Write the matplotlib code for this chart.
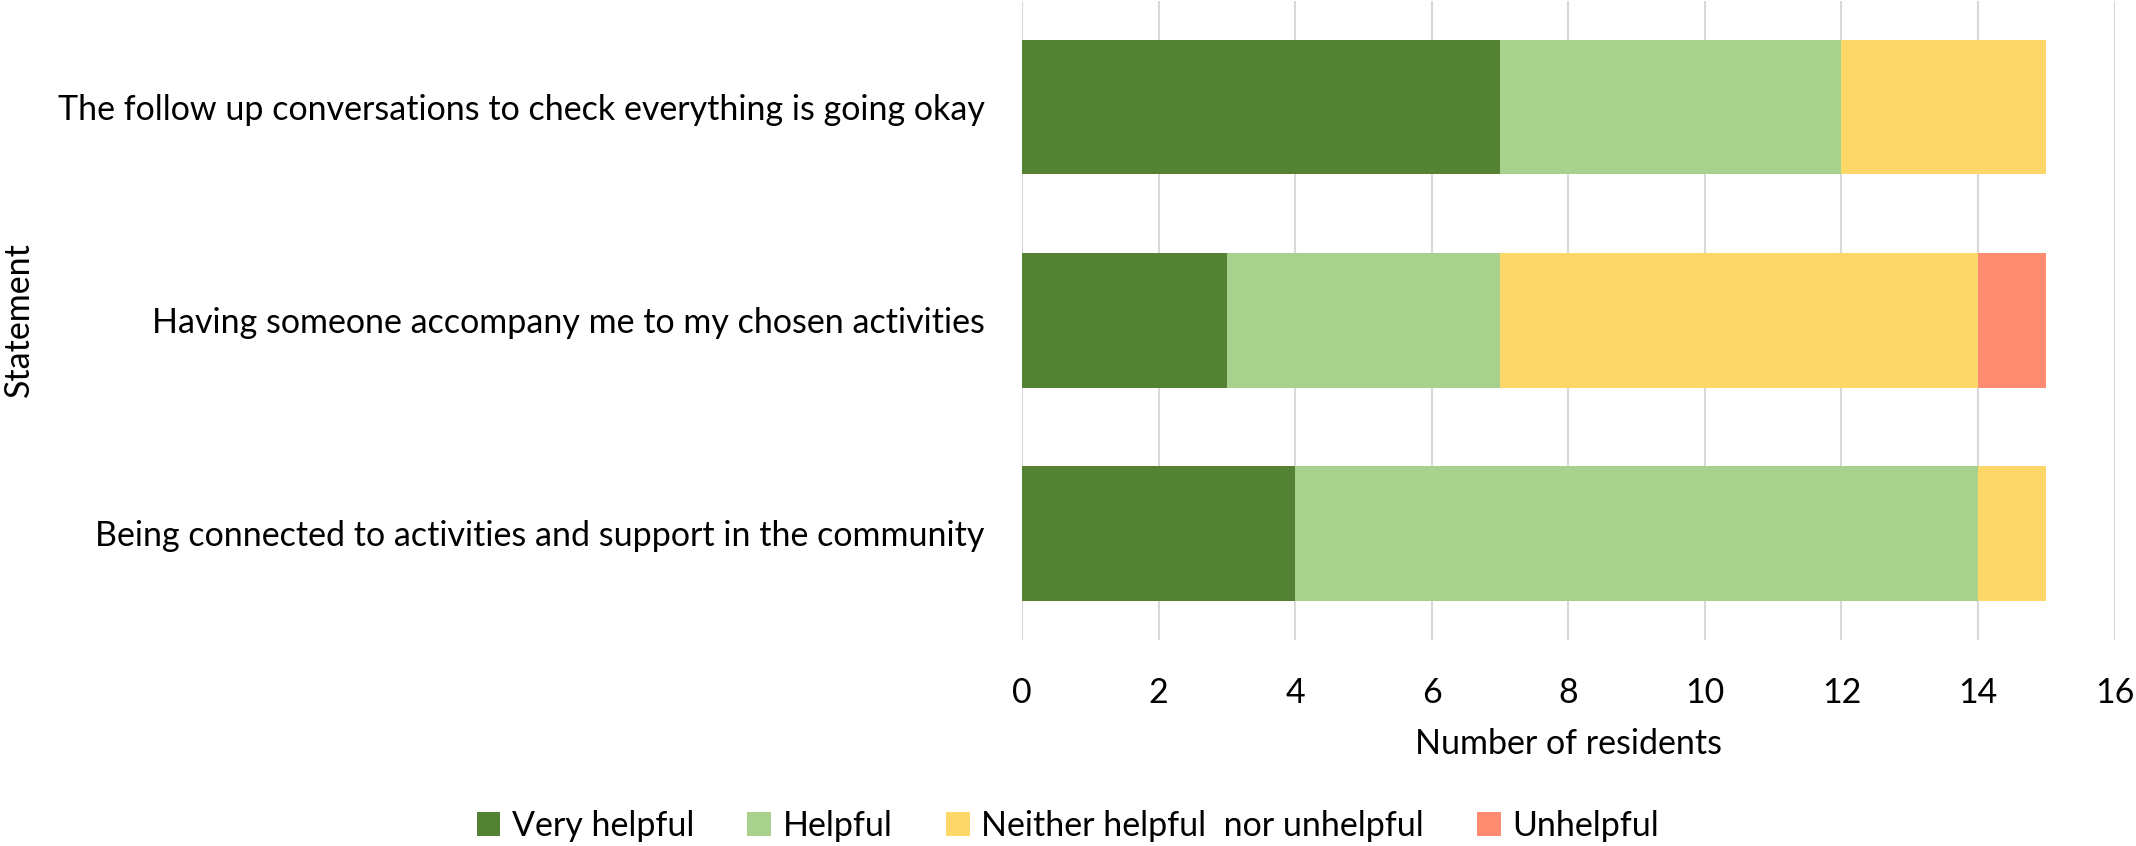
import numpy as np
import matplotlib.pyplot as plt
from matplotlib.patches import Patch

plt.rcParams['font.family'] = ['Lato', 'DejaVu Sans']

statements = [
    'The follow up conversations to check everything is going okay',
    'Having someone accompany me to my chosen activities',
    'Being connected to activities and support in the community',
]
responses = ['Very helpful', 'Helpful', 'Neither helpful  nor unhelpful', 'Unhelpful']
very_helpful = [7, 3, 4]
helpful = [5, 4, 10]
neither = [3, 7, 1]
unhelpful = [0, 1, 0]
colours = ['#548235', '#A9D18E', '#FDD868', '#FF8B71']

counts = np.array([very_helpful, helpful, neither, unhelpful], dtype=float)
fs = 24.5

fig = plt.figure(figsize=(21.36, 8.46), dpi=100)
ax = fig.add_axes([0.4785, 0.2435, 0.5115, 0.7555])

ypos = np.arange(len(statements))
left = np.zeros(len(statements))
for row, colour in zip(counts, colours):
    ax.barh(ypos, row, left=left, height=0.63, color=colour, zorder=3)
    left += row

ax.set_xlim(0, 16)
ax.set_ylim(len(statements) - 0.5, -0.5)
ax.set_xticks(np.arange(0, 17, 2))
ax.set_yticks(ypos)
ax.set_yticklabels(statements)
ax.grid(axis='x', color='#D9D9D9', linewidth=1.5, zorder=0)
for s in ax.spines.values():
    s.set_visible(False)
ax.tick_params(axis='x', length=0, pad=27, labelsize=fs)
ax.tick_params(axis='y', length=0, pad=27, labelsize=fs)

# axis titles placed in figure coordinates
fig.text(0.4785 + 0.5115 / 2, 1 - 744 / 846, 'Number of residents', ha='center', va='center', fontsize=fs)
fig.text(19 / 2136, 0.622, 'Statement', rotation=90, ha='center', va='center', fontsize=fs)

handles = [Patch(facecolor=c, edgecolor='none') for c in colours]
fig.legend(handles, responses, loc='center', bbox_to_anchor=(0.5, 1 - 826 / 846),
           ncol=4, frameon=False, fontsize=fs, handlelength=0.7, handleheight=0.7,
           handletextpad=0.35, columnspacing=1.55)

fig.savefig('out.png', dpi=100)
